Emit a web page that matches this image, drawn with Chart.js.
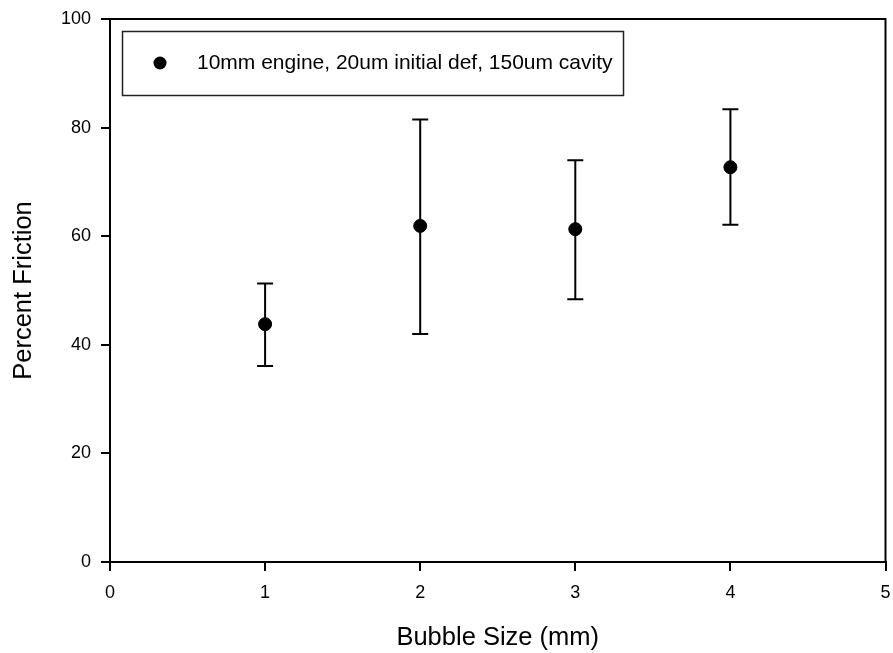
<!DOCTYPE html>
<html>
<head>
<meta charset="utf-8">
<script src="https://cdn.jsdelivr.net/npm/chart.js@4/dist/chart.umd.min.js"></script>
<style>
html,body{margin:0;padding:0;background:#fff;}
#wrap{position:relative;width:893px;height:653px;}
</style>
</head>
<body>
<div id="wrap"><canvas id="c" width="893" height="653"></canvas></div>
<script>
const bubbleSizes = [1, 2, 3, 4];
const frictionMean = [43.8, 61.9, 61.3, 72.7];
const frictionUpper = [51.3, 81.5, 74.0, 83.4];
const frictionLower = [36.1, 42.0, 48.4, 62.1];
const seriesLabel = '10mm engine, 20um initial def, 150um cavity';
const xTickValues = [0, 1, 2, 3, 4, 5];
const yTickValues = [0, 20, 40, 60, 80, 100];
const xTitle = 'Bubble Size (mm)';
const yTitle = 'Percent Friction';

const FONT = "'Liberation Sans', Arial, sans-serif";

const errorBars = {
  id: 'errorBars',
  afterDatasetsDraw(chart) {
    const ctx = chart.ctx, xs = chart.scales.x, ys = chart.scales.y;
    ctx.save();
    ctx.strokeStyle = '#000';
    ctx.lineWidth = 2;
    for (let i = 0; i < bubbleSizes.length; i++) {
      const x = xs.getPixelForValue(bubbleSizes[i]);
      const yu = ys.getPixelForValue(frictionUpper[i]);
      const yl = ys.getPixelForValue(frictionLower[i]);
      ctx.beginPath();
      ctx.moveTo(x, yu); ctx.lineTo(x, yl);
      ctx.moveTo(x - 8, yu); ctx.lineTo(x + 8, yu);
      ctx.moveTo(x - 8, yl); ctx.lineTo(x + 8, yl);
      ctx.stroke();
    }
    ctx.restore();
  }
};

const frameAndLegend = {
  id: 'frameAndLegend',
  afterDraw(chart) {
    const ctx = chart.ctx, a = chart.chartArea;
    ctx.save();
    ctx.strokeStyle = '#000';
    ctx.lineWidth = 2;
    ctx.beginPath();
    ctx.moveTo(a.left, a.top); ctx.lineTo(a.right, a.top); ctx.lineTo(a.right, a.bottom);
    ctx.stroke();
    // legend box
    ctx.lineWidth = 1.5;
    ctx.strokeStyle = '#222';
    ctx.strokeRect(122.5, 31.5, 501, 64);
    ctx.fillStyle = '#000';
    ctx.beginPath();
    ctx.arc(160, 63, 6.5, 0, Math.PI * 2);
    ctx.fill();
    ctx.font = '21px ' + FONT;
    ctx.textBaseline = 'middle';
    ctx.textAlign = 'left';
    ctx.fillText(chart.data.datasets[0].label, 197, 63);
    ctx.restore();
  }
};

new Chart(document.getElementById('c'), {
  type: 'scatter',
  data: {
    datasets: [{
      label: seriesLabel,
      data: bubbleSizes.map((x, i) => ({x: x, y: frictionMean[i]})),
      backgroundColor: '#000',
      borderColor: '#000',
      pointRadius: 6.5,
      pointHoverRadius: 6.5
    }]
  },
  options: {
    responsive: false,
    animation: false,
    events: [],
    layout: {padding: {top: 19, right: 6, left: 0, bottom: 0}},
    plugins: {legend: {display: false}, tooltip: {enabled: false}},
    scales: {
      x: {
        type: 'linear', min: 0, max: 5,
        afterBuildTicks: s => { s.ticks = xTickValues.map(v => ({value: v})); },
        afterFit: s => { s.height = 91; s.paddingLeft = 0; s.paddingRight = 0; },
        grid: {drawOnChartArea: false, drawTicks: true, tickLength: 9, color: '#000', lineWidth: 2},
        border: {display: true, color: '#000', width: 2},
        ticks: {color: '#000', font: {family: FONT, size: 18}, padding: 11, maxRotation: 0},
        title: {display: true, text: xTitle, color: '#000', font: {family: FONT, size: 25.5}, padding: {top: 6, bottom: 0}}
      },
      y: {
        type: 'linear', min: 0, max: 100,
        afterBuildTicks: s => { s.ticks = yTickValues.map(v => ({value: v})); },
        afterFit: s => { s.width = 110; s.paddingTop = 0; s.paddingBottom = 0; },
        grid: {drawOnChartArea: false, drawTicks: true, tickLength: 9, color: '#000', lineWidth: 2},
        border: {display: true, color: '#000', width: 2},
        ticks: {color: '#000', font: {family: FONT, size: 18}, padding: 10},
        title: {display: true, text: yTitle, color: '#000', font: {family: FONT, size: 25.5}, padding: {top: 9, bottom: 0}}
      }
    }
  },
  plugins: [errorBars, frameAndLegend]
});
</script>
</body>
</html>
